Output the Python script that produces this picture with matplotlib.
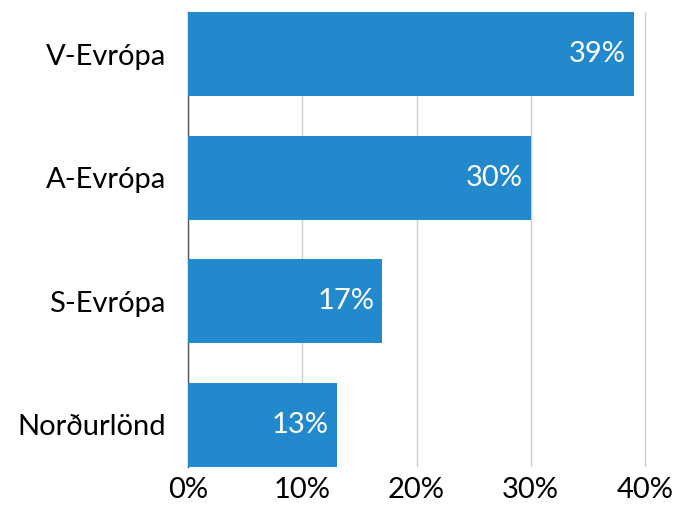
import matplotlib
matplotlib.use("Agg")
import matplotlib.pyplot as plt

regions = ["V-Evrópa", "A-Evrópa", "S-Evrópa", "Norðurlönd"]
shares = [39, 30, 17, 13]
xticks = [0, 10, 20, 30, 40]

plt.rcParams['font.family'] = ['Lato', 'DejaVu Sans']

fig = plt.figure(figsize=(6.79, 5.09), dpi=100)
# axes a touch wider than the 40% line so the last gridline shows
px_per_unit = (645 - 188) / 40
ax = fig.add_axes([188 / 679, 1 - 467 / 509, (645 - 188 + 4) / 679, 455 / 509])

ypos = list(range(len(regions)))
bars = ax.barh(ypos, shares, height=0.68, color='#2289cc', zorder=3)

for b, v in zip(bars, shares):
    ax.text(b.get_width() - 0.7, b.get_y() + b.get_height() / 2, f"{v}%",
            color='white', fontsize=21, ha='right', va='center', zorder=4)

ax.set_ylim(len(regions) - 1 + 0.34, -0.34)
ax.set_xlim(0, 40 + 4 / px_per_unit)
ax.set_yticks(ypos)
ax.set_yticklabels(regions, fontsize=21)
ax.set_xticks(xticks)
ax.set_xticklabels([f"{t}%" for t in xticks], fontsize=21)
ax.tick_params(length=0, pad=7)
ax.tick_params(axis='y', pad=16)

ax.grid(axis='x', color='#cccccc', linewidth=1, zorder=0)
for s in ['top', 'right', 'bottom']:
    ax.spines[s].set_visible(False)
ax.spines['left'].set_color('#555555')
ax.spines['left'].set_linewidth(1)

fig.savefig('out.png', dpi=100)
